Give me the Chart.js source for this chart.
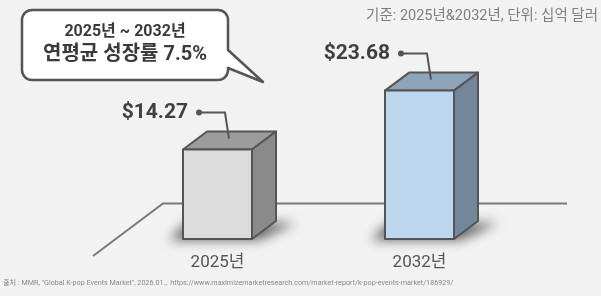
<!DOCTYPE html>
<html lang="ko">
<head>
  <meta charset="UTF-8">
  <title>K-pop 이벤트 시장 규모</title>
  <script src="https://cdn.jsdelivr.net/npm/chart.js@4"></script>
  <style>
    html, body { margin: 0; padding: 0; background: #f2f2f2; }
    #wrap { width: 601px; height: 296px; position: relative; }
  </style>
</head>
<body>
  <div id="wrap">
    <canvas id="chart" width="601" height="296"></canvas>
  </div>

  <script>
    // 데이터
    var years = ["2025년", "2032년"];
    var marketSize = [14.27, 23.68];
    var bubbleLines = ["2025년 ~ 2032년", "연평균 성장률 7.5%"];
    var unitNote = "기준: 2025년&2032년, 단위: 십억 달러";
    var sourceNote = "출처 : MMR, \"Global K-pop Events Market\", 2026.01.,  https://www.maximizemarketresearch.com/market-report/k-pop-events-market/186929/";

    var FONT = "Roboto, 'Noto Sans CJK KR', sans-serif";
    var DEPTH = { x: 24, y: -18 };

    /* 바닥 선과 그림자 */
    var floorPlugin = {
      id: "floor",
      beforeDatasetsDraw: function(chart) {
        var ctx = chart.ctx;
        var area = chart.chartArea;
        var base = chart.scales.y.getPixelForValue(0);
        var fy = base - 35.5;
        ctx.save();
        ctx.strokeStyle = "#7a7a7a";
        ctx.lineWidth = 2;
        ctx.beginPath();
        ctx.moveTo(area.left - 23.5, fy + 52.5);
        ctx.lineTo(area.left + 46.5, fy);
        ctx.lineTo(area.right + 46.5, fy);
        ctx.stroke();

        // 그림자
        var meta = chart.getDatasetMeta(0);
        meta.data.forEach(function(bar) {
          var l = bar.x - bar.width / 2, r = bar.x + bar.width / 2;
          ctx.save();
          ctx.filter = "blur(6px)";
          ctx.fillStyle = "rgba(0,0,0,0.6)";
          ctx.beginPath();
          ctx.moveTo(l - 14, base + 1);
          ctx.lineTo(l + 4, base - 16);
          ctx.lineTo(r + DEPTH.x + 20, base - 16);
          ctx.lineTo(r + 6, base + 1);
          ctx.closePath();
          ctx.fill();
          ctx.restore();
        });
        ctx.restore();
      }
    };

    /* 3D 막대, 값 라벨, 연도 라벨 */
    var boxPlugin = {
      id: "box3d",
      afterDatasetsDraw: function(chart) {
        var ctx = chart.ctx;
        var ds = chart.data.datasets[0];
        var meta = chart.getDatasetMeta(0);
        meta.data.forEach(function(bar, i) {
          var l = bar.x - bar.width / 2, r = bar.x + bar.width / 2;
          var t = bar.y, b = bar.base;
          var dx = DEPTH.x, dy = DEPTH.y;
          ctx.save();
          ctx.lineJoin = "round";
          ctx.strokeStyle = "#555555";
          ctx.lineWidth = 2;
          // 윗면
          ctx.fillStyle = ds.topColors[i];
          ctx.beginPath();
          ctx.moveTo(l, t);
          ctx.lineTo(l + dx, t + dy);
          ctx.lineTo(r + dx, t + dy);
          ctx.lineTo(r, t);
          ctx.closePath();
          ctx.fill();
          ctx.stroke();
          // 옆면
          ctx.fillStyle = ds.sideColors[i];
          ctx.beginPath();
          ctx.moveTo(r, t);
          ctx.lineTo(r + dx, t + dy);
          ctx.lineTo(r + dx, b + dy);
          ctx.lineTo(r, b);
          ctx.closePath();
          ctx.fill();
          ctx.stroke();
          // 앞면
          ctx.fillStyle = ds.frontColors[i];
          ctx.fillRect(l, t, r - l, b - t);
          ctx.strokeRect(l, t, r - l, b - t);

          // 값 라벨
          var dotX = l + 16, dotY = t - 37;
          ctx.strokeStyle = "#555555";
          ctx.lineWidth = 2;
          ctx.beginPath();
          ctx.moveTo(dotX, dotY);
          ctx.lineTo(l + 42, dotY);
          ctx.lineTo(l + 46, t - 11);
          ctx.stroke();
          ctx.fillStyle = "#555555";
          ctx.beginPath();
          ctx.arc(dotX, dotY, 3, 0, Math.PI * 2);
          ctx.fill();
          ctx.fillStyle = "#404040";
          ctx.font = "bold 21px " + FONT;
          ctx.textAlign = "right";
          ctx.textBaseline = "middle";
          ctx.fillText("$" + ds.data[i].toFixed(2), dotX - 11, dotY);

          // 연도 라벨
          ctx.fillStyle = "#555555";
          ctx.font = "17px " + FONT;
          ctx.textAlign = "center";
          ctx.fillText(chart.data.labels[i], bar.x, b + 24);
          ctx.restore();
        });
      }
    };

    /* 말풍선과 주석 */
    var notePlugin = {
      id: "notes",
      afterDraw: function(chart) {
        var ctx = chart.ctx;
        ctx.save();
        // 말풍선
        var x0 = 22, y0 = 10, x1 = 228, y1 = 80, rad = 10;
        ctx.fillStyle = "#ffffff";
        ctx.strokeStyle = "#555555";
        ctx.lineWidth = 2.5;
        ctx.lineJoin = "round";
        ctx.beginPath();
        ctx.moveTo(x0 + rad, y0);
        ctx.lineTo(x1 - rad, y0);
        ctx.arcTo(x1, y0, x1, y0 + rad, rad);
        ctx.lineTo(x1, 50);
        ctx.lineTo(263, 82);
        ctx.lineTo(x1, 68);
        ctx.lineTo(x1, y1 - rad);
        ctx.arcTo(x1, y1, x1 - rad, y1, rad);
        ctx.lineTo(x0 + rad, y1);
        ctx.arcTo(x0, y1, x0, y1 - rad, rad);
        ctx.lineTo(x0, y0 + rad);
        ctx.arcTo(x0, y0, x0 + rad, y0, rad);
        ctx.closePath();
        ctx.fill();
        ctx.stroke();

        ctx.fillStyle = "#3a3a3a";
        ctx.textAlign = "center";
        ctx.textBaseline = "middle";
        ctx.font = "bold 16px " + FONT;
        ctx.fillText(bubbleLines[0], 125, 32);
        ctx.font = "bold 20px " + FONT;
        ctx.fillText(bubbleLines[1], 125, 55);

        // 단위 안내
        ctx.fillStyle = "#808080";
        ctx.font = "14.5px " + FONT;
        ctx.textAlign = "right";
        ctx.fillText(unitNote, 598, 16);

        // 출처
        ctx.fillStyle = "#8a8a8a";
        ctx.font = "7.2px " + FONT;
        ctx.textAlign = "left";
        ctx.fillText(sourceNote, 3, 283);
        ctx.restore();
      }
    };

    var chart = new Chart(document.getElementById("chart"), {
      type: "bar",
      data: {
        labels: years,
        datasets: [{
          label: "시장 규모",
          data: marketSize,
          backgroundColor: "rgba(0,0,0,0)",
          borderWidth: 0,
          barThickness: 69,
          frontColors: ["#dcdcdc", "#bdd7ee"],
          topColors: ["#9c9c9c", "#8ea5b9"],
          sideColors: ["#8a8a8a", "#74879a"]
        }]
      },
      options: {
        responsive: false,
        animation: false,
        devicePixelRatio: 1,
        layout: { padding: { top: 51, bottom: 57, left: 116.5, right: 80.5 } },
        plugins: {
          legend: { display: false },
          tooltip: { enabled: false }
        },
        scales: {
          x: { display: false },
          y: { display: false, min: 0, max: 30 }
        }
      },
      plugins: [floorPlugin, boxPlugin, notePlugin]
    });
  </script>
</body>
</html>
